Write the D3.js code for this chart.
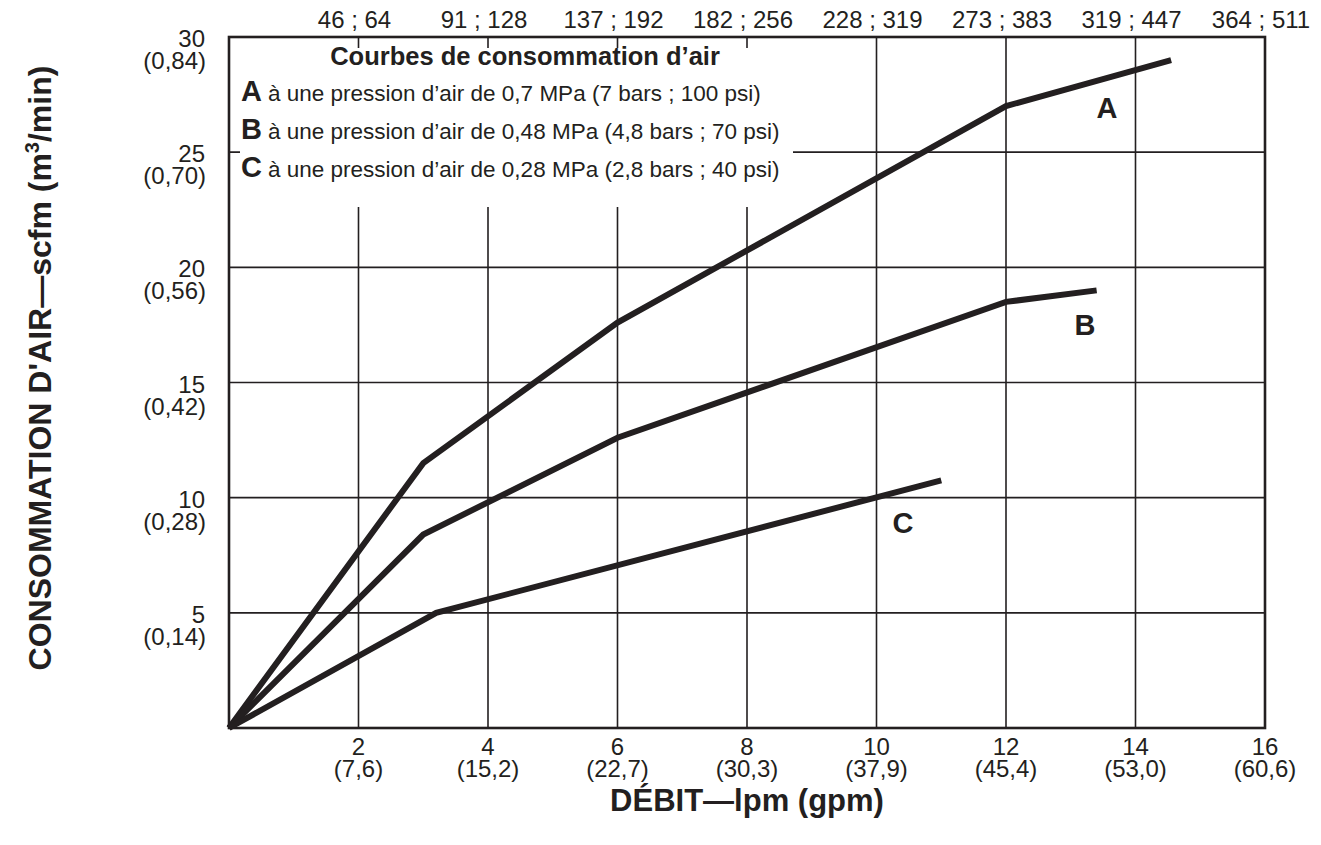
<!DOCTYPE html>
<html>
<head>
<meta charset="utf-8">
<script src="https://cdn.jsdelivr.net/npm/d3@7"></script>
<style>
  body { margin: 0; background: #fff; }
  text { font-family: "Liberation Sans", Arial, Helvetica, sans-serif; fill: #231f20; }
</style>
</head>
<body>
<div id="chart"></div>
<script>
// gpm values on the bottom axis, with lpm in brackets
var xTicks = [2, 4, 6, 8, 10, 12, 14, 16];
var xTickLpm = ["(7,6)", "(15,2)", "(22,7)", "(30,3)", "(37,9)", "(45,4)", "(53,0)", "(60,6)"];
var topTickLabels = ["46 ; 64", "91 ; 128", "137 ; 192", "182 ; 256", "228 ; 319", "273 ; 383", "319 ; 447", "364 ; 511"];
var yTicks = [5, 10, 15, 20, 25, 30];
var yTickM3 = ["(0,14)", "(0,28)", "(0,42)", "(0,56)", "(0,70)", "(0,84)"];

// curves: [gpm, scfm]
var curveA = [[0, 0], [3, 11.5], [6, 17.6], [12, 27], [14.55, 29]];
var curveB = [[0, 0], [3, 8.4], [6, 12.6], [12, 18.5], [13.4, 19]];
var curveC = [[0, 0], [3.2, 5], [11, 10.75]];
var curveNames = ["A", "B", "C"];
var curveLabelPos = [[13.56, 26.5], [13.22, 17.05], [10.41, 8.45]];

var legendTitle = "Courbes de consommation d\u2019air";
var legendLines = [
    "\u00e0 une pression d\u2019air de 0,7 MPa (7 bars ; 100 psi)",
    "\u00e0 une pression d\u2019air de 0,48 MPa (4,8 bars ; 70 psi)",
    "\u00e0 une pression d\u2019air de 0,28 MPa (2,8 bars ; 40 psi)"
];

var margin = {top: 37, right: 56, bottom: 117, left: 229};
var width = 1321 - margin.left - margin.right,
    height = 845 - margin.top - margin.bottom;
var ink = "#231f20";

var svg = d3.select("#chart")
    .append("svg")
    .attr("width", 1321)
    .attr("height", 845);

var g = svg.append("g")
    .attr("transform", "translate(" + margin.left + "," + margin.top + ")");

var x = d3.scaleLinear().domain([0, 16]).range([0, width]);
var y = d3.scaleLinear().domain([0, 30]).range([height, 0]);

// grid lines
g.append("g").selectAll("line.vg")
    .data(xTicks.slice(0, -1))
    .enter().append("line")
    .attr("x1", function(d) { return x(d); })
    .attr("x2", function(d) { return x(d); })
    .attr("y1", 0).attr("y2", height)
    .style("stroke", ink).style("stroke-width", 1.6);

g.append("g").selectAll("line.hg")
    .data(yTicks.slice(0, -1))
    .enter().append("line")
    .attr("x1", 0).attr("x2", width)
    .attr("y1", function(d) { return y(d); })
    .attr("y2", function(d) { return y(d); })
    .style("stroke", ink).style("stroke-width", 1.6);

// legend box hides the grid behind it
var legX = x(0) + 11, legY = 11;
g.append("rect")
    .attr("x", legX).attr("y", legY)
    .attr("width", 553).attr("height", 159)
    .style("fill", "#fff");

// frame
g.append("rect")
    .attr("x", 0).attr("y", 0)
    .attr("width", width).attr("height", height)
    .style("fill", "none").style("stroke", ink).style("stroke-width", 2.6);

// bottom axis labels
var xLab = g.append("g").selectAll("text.xl")
    .data(xTicks)
    .enter().append("text")
    .attr("text-anchor", "middle")
    .style("font-size", "24px");
xLab.append("tspan")
    .attr("x", function(d) { return x(d); })
    .attr("y", height + 27)
    .text(function(d) { return d; });
xLab.append("tspan")
    .attr("x", function(d) { return x(d); })
    .attr("y", height + 49)
    .text(function(d, i) { return xTickLpm[i]; });

// top axis labels
g.append("g").selectAll("text.tl")
    .data(xTicks)
    .enter().append("text")
    .attr("x", function(d) { return x(d) - 4; })
    .attr("y", -9)
    .attr("text-anchor", "middle")
    .style("font-size", "24px")
    .text(function(d, i) { return topTickLabels[i]; });

// left axis labels
var yLab = g.append("g").selectAll("text.yl")
    .data(yTicks)
    .enter().append("text")
    .attr("text-anchor", "end")
    .style("font-size", "24px");
yLab.append("tspan")
    .attr("x", -24)
    .attr("y", function(d) { return y(d) + 10; })
    .text(function(d) { return d; });
yLab.append("tspan")
    .attr("x", -23)
    .attr("y", function(d) { return y(d) + 32; })
    .text(function(d, i) { return yTickM3[i]; });

// curves
var line = d3.line()
    .x(function(d) { return x(d[0]); })
    .y(function(d) { return y(d[1]); });

g.append("g").selectAll("path.curve")
    .data([curveA, curveB, curveC])
    .enter().append("path")
    .attr("d", line)
    .style("fill", "none")
    .style("stroke", ink)
    .style("stroke-width", 6)
    .style("stroke-linejoin", "miter");

g.append("g").selectAll("text.cl")
    .data(curveNames)
    .enter().append("text")
    .attr("x", function(d, i) { return x(curveLabelPos[i][0]); })
    .attr("y", function(d, i) { return y(curveLabelPos[i][1]); })
    .attr("text-anchor", "middle")
    .style("font-size", "29px")
    .style("font-weight", "bold")
    .text(function(d) { return d; });

// legend text
g.append("text")
    .attr("x", 296).attr("y", 28)
    .attr("text-anchor", "middle")
    .style("font-size", "25.5px")
    .style("font-weight", "bold")
    .text(legendTitle);

var legRows = g.append("g").selectAll("text.lr")
    .data(legendLines)
    .enter().append("text")
    .attr("x", 12)
    .attr("y", function(d, i) { return 64 + i * 38; })
    .style("font-size", "22.5px");
legRows.append("tspan")
    .style("font-size", "29px")
    .style("font-weight", "bold")
    .text(function(d, i) { return curveNames[i]; });
legRows.append("tspan")
    .attr("dx", 6)
    .text(function(d) { return d; });

// axis titles
svg.append("text")
    .attr("x", margin.left + width / 2)
    .attr("y", 811)
    .attr("text-anchor", "middle")
    .style("font-size", "31px")
    .style("font-weight", "bold")
    .text("D\u00c9BIT\u2014lpm (gpm)");

var yt = svg.append("text")
    .attr("transform", "translate(51," + 368 + ") rotate(-90)")
    .attr("text-anchor", "middle")
    .style("font-size", "32px")
    .style("font-weight", "bold");
yt.append("tspan").text("CONSOMMATION D'AIR\u2014scfm (m");
yt.append("tspan").attr("dy", -12).style("font-size", "20px").text("3");
yt.append("tspan").attr("dy", 12).text("/min)");
</script>
</body>
</html>
